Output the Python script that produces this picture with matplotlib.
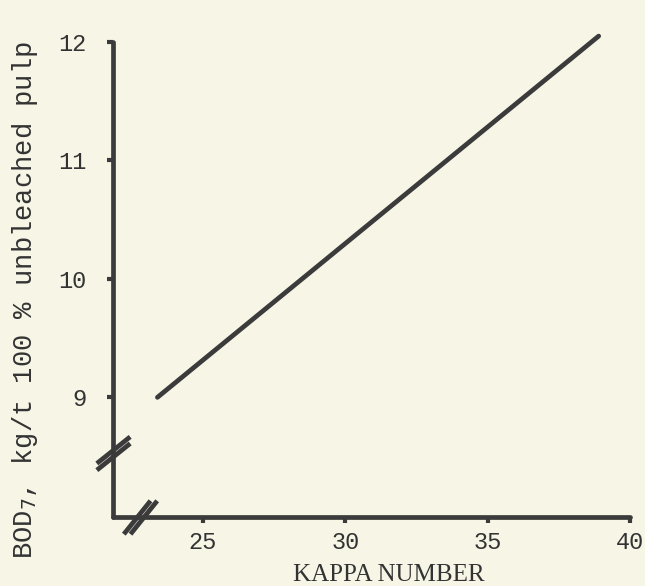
import matplotlib
matplotlib.use("Agg")
import matplotlib.pyplot as plt
from matplotlib.path import Path

# Data
kappa = [23.4, 38.9]
bod7 = [9.0, 12.05]
x_ticks = [25, 30, 35, 40]
y_ticks = [9, 10, 11, 12]
x_break = 22.8
y_break = 8.53

bg = '#f7f5e6'
ink = '#3b3b3b'

fig = plt.figure(figsize=(6.45, 5.86), dpi=100, facecolor=bg)
ax = fig.add_axes([113/645, 1-517/586, (630-113)/645, (517-42)/586])
ax.set_facecolor(bg)

ax.plot(kappa, bod7, color=ink, lw=3.4, solid_capstyle='round', clip_on=False)

ax.set_xlim(21.84, 40)
ax.set_ylim(7.99, 12)
for s in ['top', 'right']:
    ax.spines[s].set_visible(False)
for s in ['left', 'bottom']:
    ax.spines[s].set_color(ink)
    ax.spines[s].set_linewidth(3.4)
    ax.spines[s].set_capstyle('round')

ax.set_xticks(x_ticks)
ax.set_yticks(y_ticks)
ax.tick_params(axis='both', direction='out', length=4, width=3, color=ink,
               labelcolor='#333333', labelsize=17)
ax.tick_params(axis='x', pad=6)
ax.tick_params(axis='y', pad=15)
for lab in ax.get_xticklabels() + ax.get_yticklabels():
    lab.set_family('Liberation Mono')

ax.set_xlabel('KAPPA NUMBER', family='Liberation Serif', fontsize=18, color='#333333')
ax.xaxis.label.set_va('center')
ax.xaxis.set_label_coords(0.534, -0.122)
ax.set_ylabel('BOD$_7$, kg/t 100 % unbleached pulp', family='Liberation Mono',
              fontsize=19.5, color='#333333')
ax.yaxis.label.set_va('center')
ax.yaxis.set_label_coords(-0.17, 0.457)

# axis break marks
ybrk = Path([(-1, -1), (1, 0.6), (-1, -0.6), (1, 1)],
            [Path.MOVETO, Path.LINETO, Path.MOVETO, Path.LINETO])
xbrk = Path([(-1, -1), (0.6, 1), (-0.6, -1), (1, 1)],
            [Path.MOVETO, Path.LINETO, Path.MOVETO, Path.LINETO])
ax.plot([21.84], [y_break], marker=ybrk, markersize=24, mew=3.4, mec=ink,
        ls='none', clip_on=False)
ax.plot([x_break], [7.99], marker=xbrk, markersize=24, mew=3.4, mec=ink,
        ls='none', clip_on=False)

fig.savefig('out.png', dpi=100, facecolor=bg)
